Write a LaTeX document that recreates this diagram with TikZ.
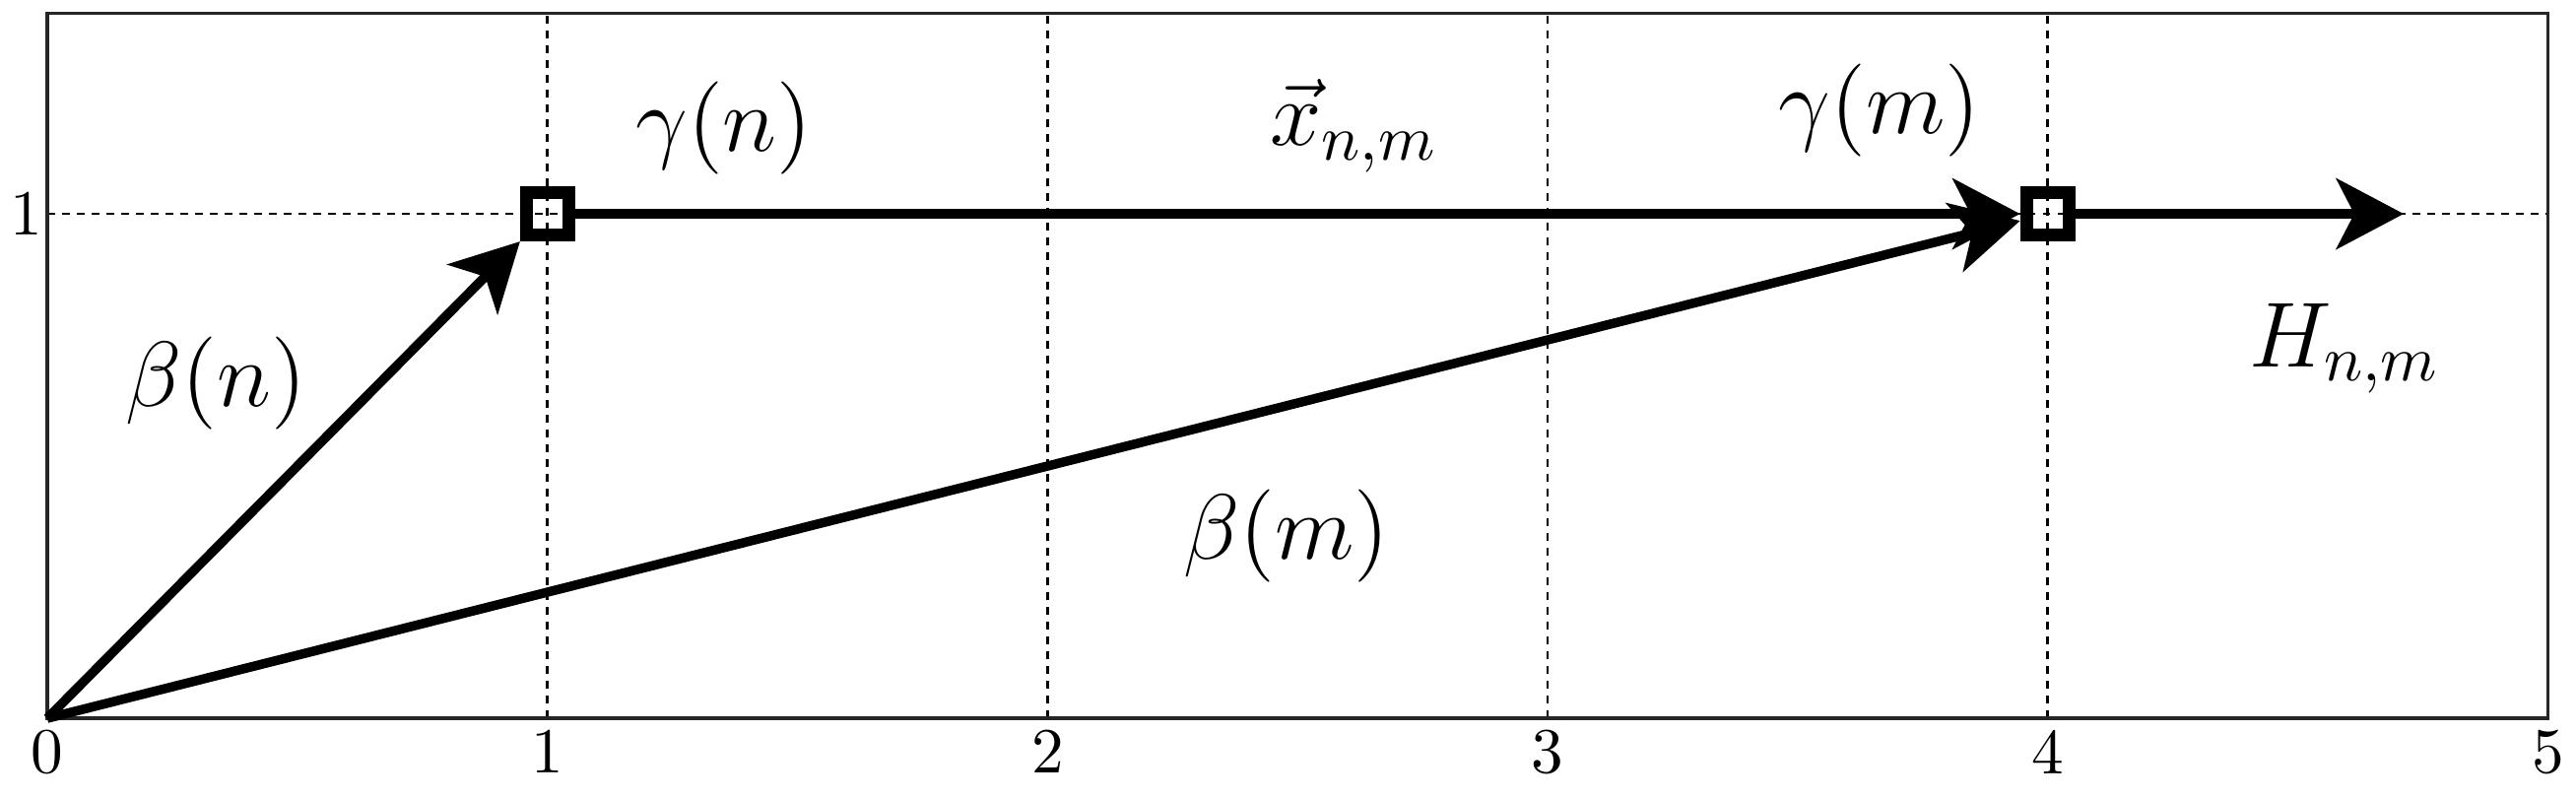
\documentclass[tikz,border=0pt]{standalone}
\usetikzlibrary{arrows.meta}
\begin{document}
\begin{tikzpicture}[x=77.82pt,y=78.49pt,
  frame/.style={line width=0.5pt,draw=black!85},
  gridline/.style={line width=0.4pt,dash pattern=on 1.2pt off 1.1pt},
  vec/.style={line width=1.45pt,-{Stealth[length=10.5pt,width=11pt,inset=2.8pt]}},
  sqbox/.style={draw,line width=2pt,minimum size=6.6pt,inner sep=0pt,rectangle},
  tick/.style={inner sep=0pt,font=\fontsize{10}{12}\selectfont},
  lbl/.style={inner sep=0pt,font=\fontsize{14}{16}\selectfont}]
\useasboundingbox (-7.36pt,-12.42pt) rectangle (393.5pt,111.76pt);
% grid
\foreach \x in {1,...,4} \draw[gridline] (\x,0) -- (\x,1.397);
\draw[gridline] (0,1) -- (5,1);
% frame
\draw[frame] (0,0) rectangle (5,1.397);
% tick labels
\foreach \x in {0,...,5} \node[tick,anchor=north,yshift=-1.7pt] (tx\x) at (\x,0) {\x};
\node[tick,anchor=east,xshift=-0.6pt] (ty1) at (0,1) {1};
% points
\coordinate (O) at (0,0);
\node[sqbox] (s1) at (1,1) {};
\node[sqbox] (s2) at (4,1) {};
\coordinate (hend) at (4.712,1);
% vectors
\draw[vec] (O) -- (s1);
\draw[vec] (O) -- (s2);
\draw[vec] (s1) -- (s2);
\draw[vec] (s2) -- (hend);
% labels
\node[lbl,anchor=base] (bn) at (0.337,0.619) {$\beta(n)$};
\node[lbl,anchor=base] (gn) at (1.353,1.125) {$\gamma(n)$};
\node[lbl,anchor=base west] (xv) at (2.443,1.135) {$\vec{x}_{n,m}$};
\node[lbl,anchor=base] (gm) at (3.664,1.160) {$\gamma(m)$};
\node[lbl,anchor=base west] (hnm) at (4.401,0.697) {$H_{n,m}$};
\node[lbl,anchor=base] (bm) at (2.478,0.316) {$\beta(m)$};
\end{tikzpicture}
\end{document}
